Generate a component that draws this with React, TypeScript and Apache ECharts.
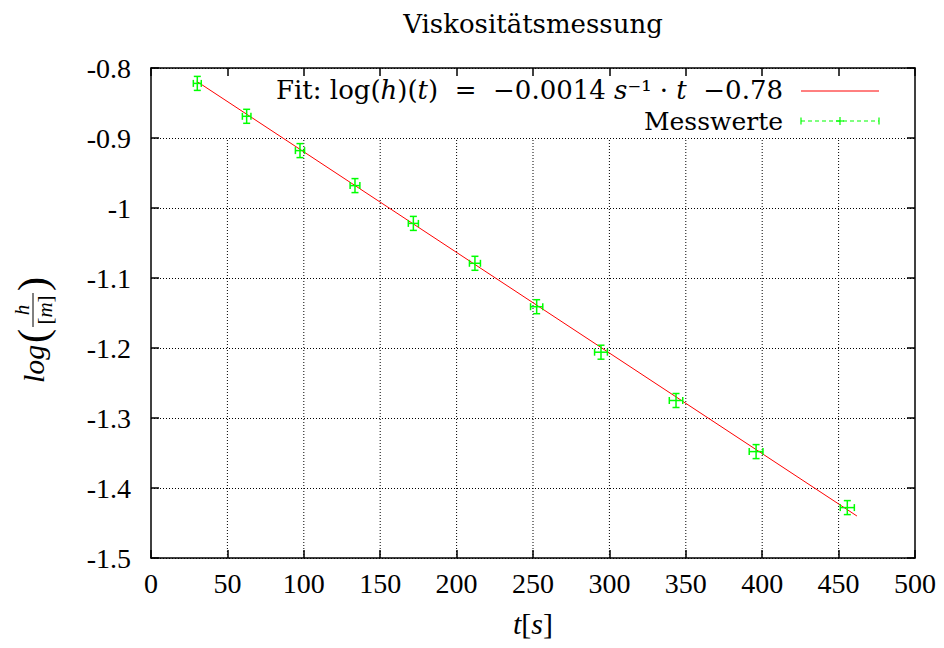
import React, { useEffect, useRef } from "react";
import * as echarts from "echarts";

// ---------- data ----------
const TITLE = "Viskositätsmessung";
const X_MIN = 0;
const X_MAX = 500;
const X_STEP = 50;
const Y_MIN = -1.5;
const Y_MAX = -0.8;
const Y_STEP = 0.1;

// measured time t [s]
const timeS = [30.3, 62.6, 97.5, 133.5, 171.7, 212.0, 252.4, 294.5, 343.6, 396.0, 455.7];
// log(h/[m])
const logH = [-0.822, -0.869, -0.918, -0.968, -1.022, -1.079, -1.141, -1.206, -1.275, -1.348, -1.428];
// uncertainties
const timeErr = [2.6, 2.8, 3.0, 3.2, 3.3, 3.6, 4.0, 4.2, 4.4, 4.5, 4.6];
const logHErr = [0.01, 0.01, 0.01, 0.01, 0.01, 0.01, 0.01, 0.01, 0.01, 0.01, 0.01];

// fit line end points
const fitT = [29.9, 462];
const fitLogH = [-0.819, -1.44];

// vertical grid lines (stop below the key row)
const gridX = [50, 100, 150, 200, 250, 300, 350, 400, 450];
const gridTop = -0.9;

const FIT_LABEL = "{n|Fit: log(}{i|h}{n|)(}{i|t}{n|)  =  −0.0014 }{i|s}{n|⁻¹ · }{i|t}{n|  −0.78}";
const MEAS_LABEL = "Messwerte";

const GREEN = "#00ff00";
const RED = "#ff0000";
const SERIF = "Liberation Serif";
const WIDE_SERIF = "DejaVu Serif";

export default function App() {
  const ref = useRef<HTMLDivElement>(null);

  useEffect(() => {
    const chart = echarts.init(ref.current!, null, { renderer: "svg" });

    const errData = timeS.map((t, i) => [t, logH[i], timeErr[i], logHErr[i]]);
    const fitData = fitT.map((t, i) => [t, fitLogH[i]]);
    const gridData = gridX.map((x) => [x, gridTop]);

    const axisLineStyle = { color: "#000", width: 1.5 };

    const option: any = {
      animation: false,
      backgroundColor: "#fff",
      textStyle: { fontFamily: SERIF, color: "#000" },
      grid: { left: 151, right: 29, top: 68, bottom: 90, containLabel: false },
      xAxis: [
        {
          type: "value",
          min: X_MIN,
          max: X_MAX,
          interval: X_STEP,
          position: "bottom",
          axisLine: { show: true, onZero: false, lineStyle: axisLineStyle },
          axisTick: { show: true, inside: true, length: 8, lineStyle: axisLineStyle },
          axisLabel: { color: "#000", fontFamily: SERIF, fontSize: 28, margin: 11 },
          splitLine: { show: false },
          name: "{i|t}{n|[}{i|s}{n|]}",
          nameLocation: "middle",
          nameGap: 50,
          nameTextStyle: {
            fontFamily: SERIF,
            fontSize: 30,
            rich: {
              i: { fontFamily: SERIF, fontSize: 30, fontStyle: "italic", color: "#000" },
              n: { fontFamily: SERIF, fontSize: 30, color: "#000" },
            },
          },
        },
        {
          type: "value",
          min: X_MIN,
          max: X_MAX,
          interval: X_STEP,
          position: "top",
          axisLine: { show: true, onZero: false, lineStyle: axisLineStyle },
          axisTick: { show: true, inside: true, length: 8, lineStyle: axisLineStyle },
          axisLabel: { show: false },
          splitLine: { show: false },
        },
      ],
      yAxis: [
        {
          type: "value",
          min: Y_MIN,
          max: Y_MAX,
          interval: Y_STEP,
          position: "left",
          axisLine: { show: true, onZero: false, lineStyle: axisLineStyle },
          axisTick: { show: true, inside: true, length: 8, lineStyle: axisLineStyle },
          axisLabel: {
            color: "#000",
            fontFamily: SERIF,
            fontSize: 28,
            margin: 20,
            formatter: (v: number) => String(Math.round(v * 10) / 10),
          },
          splitLine: { show: true, lineStyle: { color: "#000", width: 1, type: [1, 2] } },
        },
        {
          type: "value",
          min: Y_MIN,
          max: Y_MAX,
          interval: Y_STEP,
          position: "right",
          axisLine: { show: true, onZero: false, lineStyle: axisLineStyle },
          axisTick: { show: true, inside: true, length: 8, lineStyle: axisLineStyle },
          axisLabel: { show: false },
          splitLine: { show: false },
        },
      ],
      series: [
        {
          type: "custom",
          name: "grid",
          silent: true,
          z: 1,
          xAxisIndex: 0,
          yAxisIndex: 0,
          data: gridData,
          renderItem: (_p: any, api: any) => {
            const x = api.value(0);
            const a = api.coord([x, Y_MIN]);
            const b = api.coord([x, api.value(1)]);
            return {
              type: "line",
              shape: { x1: a[0], y1: a[1], x2: b[0], y2: b[1] },
              style: { stroke: "#000", lineWidth: 1, lineDash: [1, 2] },
            };
          },
        },
        {
          type: "line",
          name: "Fit",
          data: fitData,
          symbol: "none",
          z: 3,
          lineStyle: { color: RED, width: 1 },
        },
        {
          type: "custom",
          name: MEAS_LABEL,
          z: 4,
          data: errData,
          renderItem: (_p: any, api: any) => {
            const x = api.value(0);
            const y = api.value(1);
            const ex = api.value(2);
            const ey = api.value(3);
            const c = api.coord([x, y]);
            const l = api.coord([x - ex, y]);
            const r = api.coord([x + ex, y]);
            const t = api.coord([x, y + ey]);
            const b = api.coord([x, y - ey]);
            const cap = 3.5;
            const style = { stroke: GREEN, lineWidth: 1.5, fill: null };
            return {
              type: "group",
              children: [
                { type: "line", shape: { x1: l[0], y1: c[1], x2: r[0], y2: c[1] }, style },
                { type: "line", shape: { x1: l[0], y1: c[1] - cap, x2: l[0], y2: c[1] + cap }, style },
                { type: "line", shape: { x1: r[0], y1: c[1] - cap, x2: r[0], y2: c[1] + cap }, style },
                { type: "line", shape: { x1: c[0], y1: t[1], x2: c[0], y2: b[1] }, style },
                { type: "line", shape: { x1: c[0] - cap, y1: t[1], x2: c[0] + cap, y2: t[1] }, style },
                { type: "line", shape: { x1: c[0] - cap, y1: b[1], x2: c[0] + cap, y2: b[1] }, style },
              ],
            };
          },
        },
      ],
      graphic: [
        {
          type: "text",
          x: 533,
          y: 24,
          style: {
            text: TITLE,
            align: "center",
            verticalAlign: "middle",
            fontFamily: WIDE_SERIF,
            fontSize: 26,
            fill: "#000",
          },
        },
        // y-axis label: log(h/[m]) rotated
        {
          type: "group",
          x: 33,
          y: 383,
          rotation: Math.PI / 2,
          children: [
            {
              type: "text",
              x: 0,
              y: 0,
              style: {
                text: "log",
                align: "left",
                verticalAlign: "middle",
                fontFamily: SERIF,
                fontStyle: "italic",
                fontSize: 30,
                fill: "#000",
              },
            },
            {
              type: "text",
              x: 40,
              y: 0,
              style: { text: "(", align: "left", verticalAlign: "middle", fontFamily: SERIF, fontSize: 42, fill: "#000" },
            },
            {
              type: "text",
              x: 73,
              y: -11,
              style: {
                text: "h",
                align: "center",
                verticalAlign: "middle",
                fontFamily: SERIF,
                fontStyle: "italic",
                fontSize: 21,
                fill: "#000",
              },
            },
            {
              type: "line",
              shape: { x1: 56, y1: 0, x2: 90, y2: 0 },
              style: { stroke: "#000", lineWidth: 1 },
            },
            {
              type: "text",
              x: 73,
              y: 12,
              style: {
                text: "{n|[}{i|m}{n|]}",
                align: "center",
                verticalAlign: "middle",
                rich: {
                  n: { fontFamily: SERIF, fontSize: 21, fill: "#000" },
                  i: { fontFamily: SERIF, fontSize: 21, fontStyle: "italic", fill: "#000" },
                },
              },
            },
            {
              type: "text",
              x: 92,
              y: 0,
              style: { text: ")", align: "left", verticalAlign: "middle", fontFamily: SERIF, fontSize: 42, fill: "#000" },
            },
          ],
        },
        // key
        {
          type: "text",
          x: 783,
          y: 90,
          style: {
            text: FIT_LABEL,
            align: "right",
            verticalAlign: "middle",
            rich: {
              n: { fontFamily: WIDE_SERIF, fontSize: 26, fill: "#000" },
              i: { fontFamily: WIDE_SERIF, fontSize: 26, fontStyle: "italic", fill: "#000" },
            },
          },
        },
        {
          type: "line",
          shape: { x1: 801, y1: 91, x2: 879, y2: 91 },
          style: { stroke: RED, lineWidth: 1 },
        },
        {
          type: "text",
          x: 783,
          y: 121,
          style: {
            text: MEAS_LABEL,
            align: "right",
            verticalAlign: "middle",
            fontFamily: WIDE_SERIF,
            fontSize: 25,
            fill: "#000",
          },
        },
        {
          type: "group",
          children: [
            { type: "line", shape: { x1: 801, y1: 121, x2: 879, y2: 121 }, style: { stroke: GREEN, lineWidth: 1.2, lineDash: [4, 3] } },
            { type: "line", shape: { x1: 801, y1: 117.5, x2: 801, y2: 124.5 }, style: { stroke: GREEN, lineWidth: 1.2 } },
            { type: "line", shape: { x1: 879, y1: 117.5, x2: 879, y2: 124.5 }, style: { stroke: GREEN, lineWidth: 1.2 } },
            { type: "line", shape: { x1: 840, y1: 117, x2: 840, y2: 125 }, style: { stroke: GREEN, lineWidth: 1.2 } },
            { type: "line", shape: { x1: 836, y1: 121, x2: 844, y2: 121 }, style: { stroke: GREEN, lineWidth: 1.2 } },
          ],
        },
      ],
    };

    chart.setOption(option);
    return () => chart.dispose();
  }, []);

  return (
    <div
      ref={ref}
      style={{ position: "fixed", left: 0, top: 0, width: 944, height: 648, background: "#fff" }}
    />
  );
}
